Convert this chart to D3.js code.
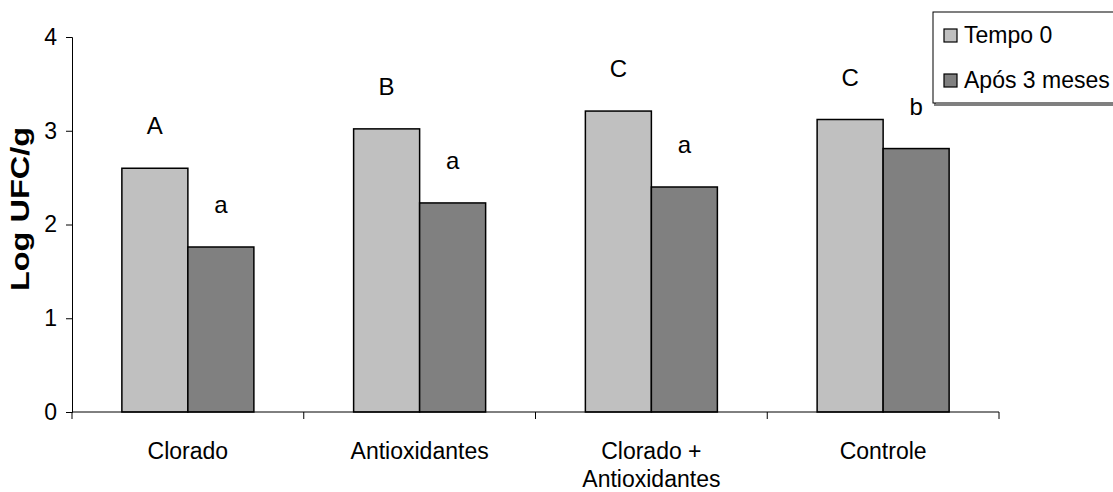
<!DOCTYPE html>
<html>
<head>
<meta charset="utf-8">
<script src="https://cdn.jsdelivr.net/npm/d3@7"></script>
<style>
  html, body { margin: 0; padding: 0; background: #fff; }
  svg text { font-family: Arial, "Liberation Sans", sans-serif; fill: #000; }
</style>
</head>
<body>
<svg id="chart" width="1113" height="492"></svg>
<script>
// Log UFC/g per treatment, at time zero and after three months
const categories = ["Clorado", "Antioxidantes", "Clorado + Antioxidantes", "Controle"];
const categoryLines = [["Clorado"], ["Antioxidantes"], ["Clorado +", "Antioxidantes"], ["Controle"]];
const seriesNames = ["Tempo 0", "Após 3 meses"];
const tempo0 = [2.60, 3.02, 3.21, 3.12];
const apos3 = [1.76, 2.23, 2.40, 2.81];
const lettersTempo0 = ["A", "B", "C", "C"];
const lettersApos3 = ["a", "a", "a", "b"];
const yTicks = [0, 1, 2, 3, 4];
const colors = ["#c0c0c0", "#808080"];

const svg = d3.select("#chart");
const plotLeft = 72, plotRight = 999, plotTop = 37, plotBottom = 412;

const x = d3.scaleBand().domain(categories).range([plotLeft, plotRight])
  .paddingInner(0.4304).paddingOuter(0.2152);
const xs = d3.scaleBand().domain(seriesNames).range([0, x.bandwidth()]);
const y = d3.scaleLinear().domain([0, 4]).range([plotBottom, plotTop]);

const series = [tempo0, apos3];
const letters = [lettersTempo0, lettersApos3];

// bars
series.forEach((vals, si) => {
  svg.append("g").selectAll("rect").data(vals).join("rect")
    .attr("x", (d, i) => x(categories[i]) + xs(seriesNames[si]))
    .attr("y", d => y(d))
    .attr("width", xs.bandwidth())
    .attr("height", d => y(0) - y(d))
    .attr("fill", colors[si])
    .attr("stroke", "#000")
    .attr("stroke-width", 1.5);
});

// significance letters above bars
series.forEach((vals, si) => {
  svg.append("g").selectAll("text").data(vals).join("text")
    .attr("x", (d, i) => x(categories[i]) + xs(seriesNames[si]) + xs.bandwidth() / 2)
    .attr("y", d => y(d) - 34)
    .attr("text-anchor", "middle")
    .attr("font-size", 24)
    .text((d, i) => letters[si][i]);
});

// y axis
const yAxis = svg.append("g").attr("transform", `translate(${plotLeft},0)`)
  .call(d3.axisLeft(y).tickValues(yTicks).tickFormat(d3.format("d")).tickSize(6).tickPadding(9));
yAxis.select(".domain").attr("stroke", "#000").attr("stroke-width", 1);
yAxis.selectAll(".tick line").attr("stroke", "#000");
yAxis.selectAll(".tick text").attr("font-size", 23).attr("font-family", "Arial, 'Liberation Sans', sans-serif");

// x axis with boundary ticks between categories
const xb = d3.scaleLinear().domain([0, categories.length]).range([plotLeft, plotRight]);
const xAxis = svg.append("g").attr("transform", `translate(0,${plotBottom})`);
xAxis.append("line").attr("x1", plotLeft).attr("x2", plotRight).attr("stroke", "#000");
xAxis.selectAll("line.b").data(d3.range(categories.length + 1)).join("line")
  .attr("class", "b")
  .attr("x1", d => xb(d)).attr("x2", d => xb(d))
  .attr("y1", 0).attr("y2", 7).attr("stroke", "#000");

// category labels
categoryLines.forEach((lines, i) => {
  const cx = x(categories[i]) + x.bandwidth() / 2;
  lines.forEach((t, li) => {
    svg.append("text")
      .attr("x", cx).attr("y", 459 + li * 28)
      .attr("text-anchor", "middle")
      .attr("font-size", 23)
      .text(t);
  });
});

// y axis title
svg.append("text")
  .attr("transform", `translate(29,209) rotate(-90) scale(1.25,1)`)
  .attr("text-anchor", "middle")
  .attr("font-size", 26)
  .attr("font-weight", "bold")
  .text("Log UFC/g");

// legend
const lg = svg.append("g");
lg.append("rect").attr("x", 935).attr("y", 14).attr("width", 200).attr("height", 91)
  .attr("fill", "none").attr("stroke", "#808080").attr("stroke-width", 2);
lg.append("rect").attr("x", 933).attr("y", 12).attr("width", 200).attr("height", 91)
  .attr("fill", "#fff").attr("stroke", "#000").attr("stroke-width", 1);
seriesNames.forEach((name, si) => {
  const cy = 35 + si * 45;
  lg.append("rect").attr("x", 944).attr("y", cy - 6).attr("width", 13).attr("height", 13)
    .attr("fill", colors[si]).attr("stroke", "#000").attr("stroke-width", 1.2);
  lg.append("text").attr("x", 964).attr("y", cy + 8).attr("font-size", 23).text(name);
});
</script>
</body>
</html>
